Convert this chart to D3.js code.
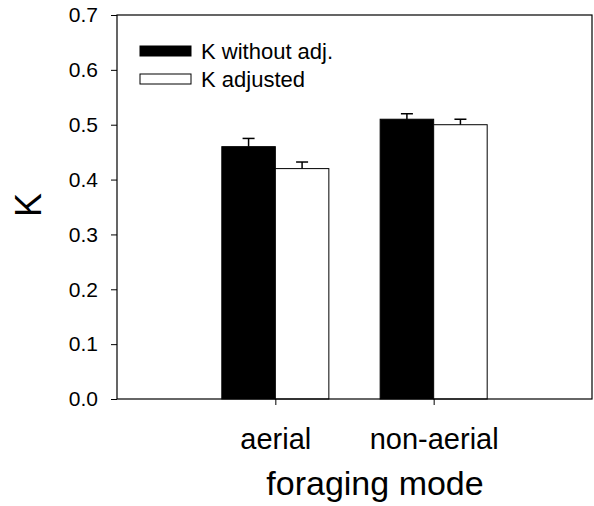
<!DOCTYPE html>
<html>
<head>
<meta charset="utf-8">
<script src="https://cdn.jsdelivr.net/npm/d3@7"></script>
<style>
  body { margin: 0; background: #fff; }
  text { font-family: "Liberation Sans", Arial, sans-serif; fill: #000; }
</style>
</head>
<body>
<svg id="chart" width="594" height="506"></svg>
<script>
// data
const categories = ['aerial', 'non-aerial'];
const seriesNames = ['K without adj.', 'K adjusted'];
const kRaw = [0.46, 0.51];
const kRawErr = [0.015, 0.01];
const kAdj = [0.42, 0.50];
const kAdjErr = [0.012, 0.01];
const yTicks = [0, 0.1, 0.2, 0.3, 0.4, 0.5, 0.6, 0.7];

// plot box
const plotL = 117, plotR = 592, plotT = 15, plotB = 399;
const barW = 0.338; // in category units

const svg = d3.select('#chart');

const x = d3.scaleLinear().domain([0, 3]).range([plotL, plotR]);
const y = d3.scaleLinear().domain([0, 0.7]).range([plotB, plotT]);

const rows = categories.map((c, i) => ({
    cat: c, pos: i + 1,
    bars: [
        { v: kRaw[i], e: kRawErr[i], fill: '#000', off: -1 },
        { v: kAdj[i], e: kAdjErr[i], fill: '#fff', off: 0 }
    ]
}));

// bars + error bars
const g = svg.append('g');
rows.forEach(r => {
    r.bars.forEach(b => {
        const x0 = x(r.pos + b.off * barW);
        const x1 = x(r.pos + (b.off + 1) * barW);
        g.append('rect')
            .attr('x', x0).attr('y', y(b.v))
            .attr('width', x1 - x0).attr('height', y(0) - y(b.v))
            .attr('fill', b.fill).attr('stroke', '#000').attr('stroke-width', 1);
        const cx = (x0 + x1) / 2;
        g.append('line')
            .attr('x1', cx).attr('x2', cx)
            .attr('y1', y(b.v)).attr('y2', y(b.v + b.e))
            .attr('stroke', '#000').attr('stroke-width', 1.5);
        g.append('line')
            .attr('x1', cx - 6).attr('x2', cx + 6)
            .attr('y1', y(b.v + b.e)).attr('y2', y(b.v + b.e))
            .attr('stroke', '#000').attr('stroke-width', 1.5);
    });
});

// frame
svg.append('rect')
    .attr('x', plotL).attr('y', plotT)
    .attr('width', plotR - plotL).attr('height', plotB - plotT)
    .attr('fill', 'none').attr('stroke', '#000').attr('stroke-width', 1.2);

// y axis
const yAxis = svg.append('g')
    .attr('transform', `translate(${plotL},0)`)
    .call(d3.axisLeft(y).tickValues(yTicks).tickFormat(d3.format('.1f')).tickSize(6).tickPadding(13));
yAxis.select('.domain').remove();
yAxis.selectAll('text').style('font-size', '21px').attr('font-family', null);
yAxis.selectAll('line').attr('stroke', '#000');

// x axis
const xAxis = svg.append('g')
    .attr('transform', `translate(0,${plotB})`)
    .call(d3.axisBottom(x).tickValues([1, 2]).tickFormat(d => categories[d - 1]).tickSize(6).tickPadding(23));
xAxis.select('.domain').remove();
xAxis.selectAll('text').style('font-size', '29px').attr('font-family', null);
xAxis.selectAll('line').attr('stroke', '#000');

// axis titles
svg.append('text')
    .attr('transform', `translate(41,205) rotate(-90)`)
    .attr('text-anchor', 'middle')
    .style('font-size', '36px')
    .text('K');
svg.append('text')
    .attr('x', 375).attr('y', 495)
    .attr('text-anchor', 'middle')
    .style('font-size', '34px')
    .text('foraging mode');

// legend
const legend = svg.append('g');
seriesNames.forEach((name, i) => {
    const ly = 46 + i * 28;
    legend.append('rect')
        .attr('x', 140).attr('y', ly)
        .attr('width', 51).attr('height', 10)
        .attr('fill', i === 0 ? '#000' : '#fff')
        .attr('stroke', '#000').attr('stroke-width', 1);
    legend.append('text')
        .attr('x', 201).attr('y', ly + 13)
        .style('font-size', '22px')
        .text(name);
});
</script>
</body>
</html>
